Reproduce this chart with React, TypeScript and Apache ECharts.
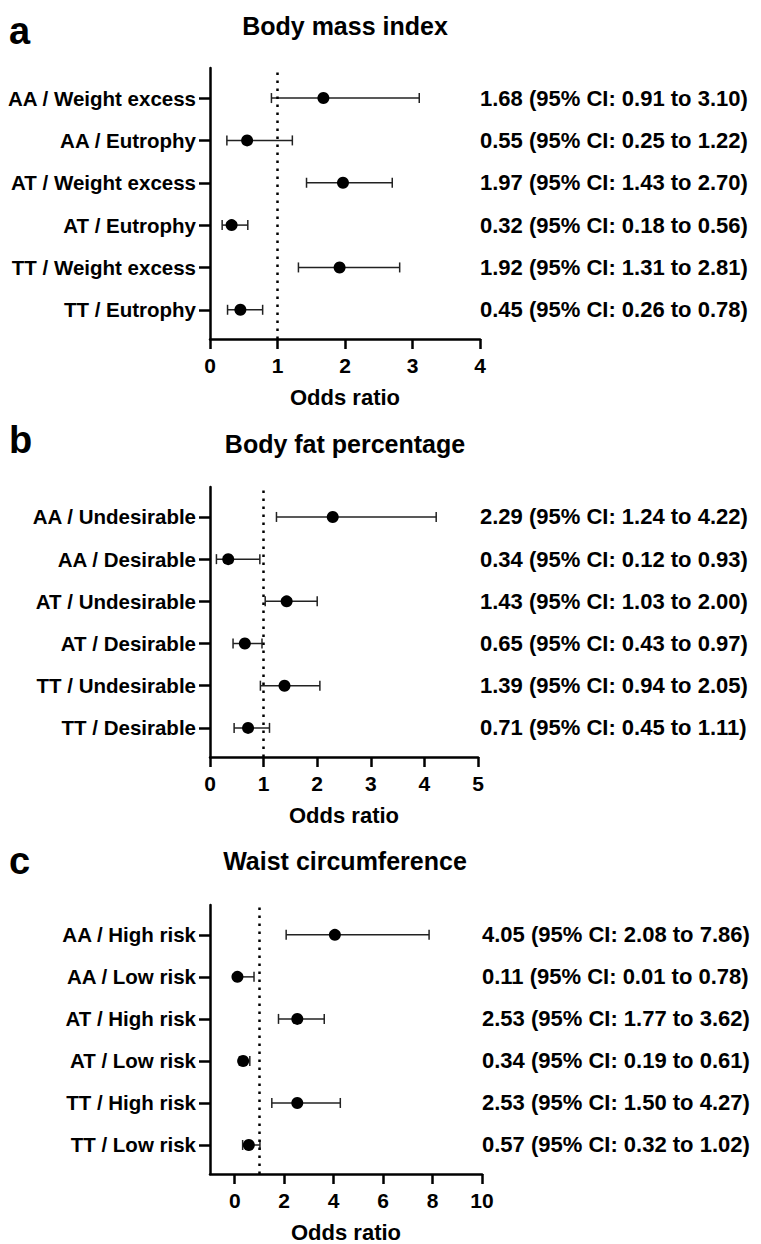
import React, { useEffect, useRef } from 'react';
import * as echarts from 'echarts';

const FONT = '"Liberation Sans", Arial, Helvetica, sans-serif';

// Panel a: Body mass index
const catsA = ['AA / Weight excess', 'AA / Eutrophy', 'AT / Weight excess', 'AT / Eutrophy', 'TT / Weight excess', 'TT / Eutrophy'];
const orA = [1.68, 0.55, 1.97, 0.32, 1.92, 0.45];
const loA = [0.91, 0.25, 1.43, 0.18, 1.31, 0.26];
const hiA = [3.10, 1.22, 2.70, 0.56, 2.81, 0.78];
const ticksA = [0, 1, 2, 3, 4];

// Panel b: Body fat percentage
const catsB = ['AA / Undesirable', 'AA / Desirable', 'AT / Undesirable', 'AT / Desirable', 'TT / Undesirable', 'TT / Desirable'];
const orB = [2.29, 0.34, 1.43, 0.65, 1.39, 0.71];
const loB = [1.24, 0.12, 1.03, 0.43, 0.94, 0.45];
const hiB = [4.22, 0.93, 2.00, 0.97, 2.05, 1.11];
const ticksB = [0, 1, 2, 3, 4, 5];

// Panel c: Waist circumference
const catsC = ['AA / High risk', 'AA / Low risk', 'AT / High risk', 'AT / Low risk', 'TT / High risk', 'TT / Low risk'];
const orC = [4.05, 0.11, 2.53, 0.34, 2.53, 0.57];
const loC = [2.08, 0.01, 1.77, 0.19, 1.50, 0.32];
const hiC = [7.86, 0.78, 3.62, 0.61, 4.27, 1.02];
const ticksC = [0, 2, 4, 6, 8, 10];

const titles = ['Body mass index', 'Body fat percentage', 'Waist circumference'];
const letters = ['a', 'b', 'c'];
const refLine = 1;

const panels = [
  { cats: catsA, or: orA, lo: loA, hi: hiA, ticks: ticksA, min: 0, max: 4, top: 68, width: 270, height: 271, rmargin: 0, titleY: 26, letterY: 31 },
  { cats: catsB, or: orB, lo: loB, hi: hiB, ticks: ticksB, min: 0, max: 5, top: 487, width: 268, height: 270, rmargin: 2, titleY: 444, letterY: 440 },
  { cats: catsC, or: orC, lo: loC, hi: hiC, ticks: ticksC, min: -1, max: 10, top: 905, width: 272, height: 272, rmargin: 0, titleY: 861, letterY: 861 },
];

const fmt = (v: number) => v.toFixed(2);

export default function App() {
  const ref = useRef<HTMLDivElement>(null);
  useEffect(() => {
    const chart = echarts.init(ref.current!, null, { renderer: 'svg' });
    const grid: any[] = [];
    const xAxis: any[] = [];
    const yAxis: any[] = [];
    const series: any[] = [];
    const graphic: any[] = [];
    const positions = [0, 1, 2, 3, 4, 5];
    const axisLine = { show: true, onZero: false, lineStyle: { color: '#000', width: 2.5 } };

    panels.forEach((p, k) => {
      const n = p.cats.length;
      grid.push({ left: 210, top: p.top, width: p.width, height: p.height });
      xAxis.push({
        gridIndex: k,
        type: 'value',
        min: p.min,
        max: p.max,
        position: 'bottom',
        axisLine,
        axisTick: { show: true, length: 10, lineStyle: { color: '#000', width: 2.5 }, customValues: p.ticks },
        axisLabel: { customValues: p.ticks, color: '#000', fontSize: 21, fontWeight: 'bold', fontFamily: FONT, margin: 16 },
        splitLine: { show: false },
        name: 'Odds ratio',
        nameLocation: 'middle',
        nameGap: 47,
        nameTextStyle: { color: '#000', fontSize: 22, fontWeight: 'bold', fontFamily: FONT },
      });
      yAxis.push({
        gridIndex: k,
        type: 'value',
        min: -0.69,
        max: 5.71,
        position: 'left',
        axisLine,
        axisTick: { show: true, length: 11, lineStyle: { color: '#000', width: 2.5 }, customValues: positions },
        axisLabel: {
          customValues: positions,
          formatter: (v: number) => p.cats[n - 1 - Math.round(v)] ?? '',
          color: '#000', fontSize: 20.5, fontWeight: 'bold', fontFamily: FONT, margin: 14,
        },
        splitLine: { show: false },
      });
      yAxis.push({
        gridIndex: k,
        type: 'value',
        min: -0.69,
        max: 5.71,
        position: 'right',
        axisLine: { show: false, onZero: false },
        axisTick: { show: false },
        axisLabel: {
          customValues: positions,
          formatter: (v: number) => {
            const i = n - 1 - Math.round(v);
            return `${fmt(p.or[i])} (95% CI: ${fmt(p.lo[i])} to ${fmt(p.hi[i])})`;
          },
          color: '#000', fontSize: 22, fontWeight: 'bold', fontFamily: FONT, margin: p.rmargin,
        },
        splitLine: { show: false },
      });
      const errData = p.cats.map((_, i) => [p.lo[i], p.hi[i], n - 1 - i]);
      const ptData = p.cats.map((_, i) => [p.or[i], n - 1 - i]);
      series.push({
        type: 'custom',
        xAxisIndex: k,
        yAxisIndex: 2 * k,
        encode: { x: [0, 1], y: 2 },
        data: errData,
        z: 2,
        renderItem: (params: any, api: any) => {
          const a = api.coord([api.value(0), api.value(2)]);
          const b = api.coord([api.value(1), api.value(2)]);
          const cap = 5;
          const style = { stroke: '#222', lineWidth: 1.5 };
          return {
            type: 'group',
            children: [
              { type: 'line', shape: { x1: a[0], y1: a[1], x2: b[0], y2: b[1] }, style },
              { type: 'line', shape: { x1: a[0], y1: a[1] - cap, x2: a[0], y2: a[1] + cap }, style },
              { type: 'line', shape: { x1: b[0], y1: b[1] - cap, x2: b[0], y2: b[1] + cap }, style },
            ],
          };
        },
      });
      series.push({
        type: 'scatter',
        xAxisIndex: k,
        yAxisIndex: 2 * k,
        data: ptData,
        symbol: 'circle',
        symbolSize: 12,
        itemStyle: { color: '#000', opacity: 1 },
        z: 4,
        markLine: {
          silent: true,
          symbol: 'none',
          label: { show: false },
          lineStyle: { color: '#000', width: 2.5, type: [2.5, 5.5], opacity: 1 },
          data: [{ xAxis: refLine }],
        },
      });
      graphic.push({
        type: 'text',
        x: 345,
        y: p.titleY,
        style: { text: titles[k], align: 'center', verticalAlign: 'middle', fill: '#000', fontSize: 25, fontWeight: 'bold', fontFamily: FONT },
      });
      graphic.push({
        type: 'text',
        x: 9,
        y: p.letterY,
        style: { text: letters[k], align: 'left', verticalAlign: 'middle', fill: '#000', fontSize: 38, fontWeight: 'bold', fontFamily: FONT },
      });
    });

    chart.setOption({
      animation: false,
      backgroundColor: '#fff',
      grid,
      xAxis,
      yAxis,
      series,
      graphic,
    });
    return () => chart.dispose();
  }, []);
  return <div ref={ref} style={{ position: 'absolute', left: 0, top: 0, width: 761, height: 1244 }} />;
}
